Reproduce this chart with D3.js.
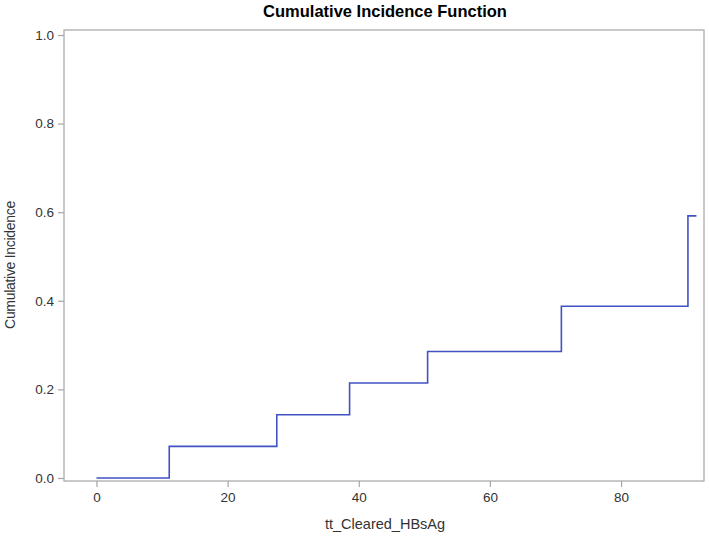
<!DOCTYPE html>
<html><head><meta charset="utf-8">
<script src="https://cdn.jsdelivr.net/npm/d3@7"></script>
<style>body{margin:0;background:#fff}svg{display:block}text{font-family:"Liberation Sans",Arial,sans-serif}</style>
</head><body><svg id="c" width="709" height="538"></svg>
<script>
const stepTimes = [0, 11.1, 27.5, 38.6, 50.5, 70.9, 90.2, 91.5];
const cumInc   = [0, 0.0714, 0.1429, 0.2143, 0.2857, 0.3878, 0.5918, 0.5918];
const xTicks = [0, 20, 40, 60, 80];
const yTicks = [0.0, 0.2, 0.4, 0.6, 0.8, 1.0];
const title = "Cumulative Incidence Function";
const xLabel = "tt_Cleared_HBsAg";
const yLabel = "Cumulative Incidence";

const svg = d3.select("#c");
const L = 64, R = 704, T = 30, B = 481;
const x = d3.scaleLinear().domain([-4.95, 92.65]).range([L, R]);
const y = d3.scaleLinear().domain([-0.0068, 1.0113]).range([B, T]);
const ink = "#333";
const frame = "#a6a6a6";

svg.append("rect").attr("x", L).attr("y", T).attr("width", R - L).attr("height", B - T)
  .attr("fill", "none").attr("stroke", frame).attr("stroke-width", 1.2);

const xa = svg.append("g").attr("transform", `translate(0,${B})`)
  .call(d3.axisBottom(x).tickValues(xTicks).tickSize(6).tickPadding(5).tickFormat(d3.format("d")));
const ya = svg.append("g").attr("transform", `translate(${L},0)`)
  .call(d3.axisLeft(y).tickValues(yTicks).tickSize(6).tickPadding(4).tickFormat(d3.format(".1f")));
[xa, ya].forEach(a => {
  a.select(".domain").remove();
  a.selectAll("line").attr("stroke", frame).attr("stroke-width", 1.2);
  a.selectAll("text").attr("fill", ink).style("font-size", "13.5px").style("font-family", '"Liberation Sans",Arial,sans-serif');
});

const pts = stepTimes.map((t, i) => [t, cumInc[i]]);
const line = d3.line().x(d => x(d[0])).y(d => y(d[1])).curve(d3.curveStepAfter);
svg.append("path").datum(pts).attr("d", line).attr("fill", "none")
  .attr("stroke", "#4152c2").attr("stroke-width", 1.6);

svg.append("text").attr("x", (L + R) / 2 + 1).attr("y", 17).attr("text-anchor", "middle")
  .attr("fill", "#000").style("font-weight", "bold").style("font-size", "16.5px").text(title);
svg.append("text").attr("x", (L + R) / 2 + 1).attr("y", 529).attr("text-anchor", "middle")
  .attr("fill", ink).style("font-size", "14.5px").text(xLabel);
svg.append("text").attr("transform", `translate(15,265) rotate(-90)`).attr("text-anchor", "middle")
  .attr("fill", ink).style("font-size", "14px").style("letter-spacing", "-0.3px").text(yLabel);
</script></body></html>
